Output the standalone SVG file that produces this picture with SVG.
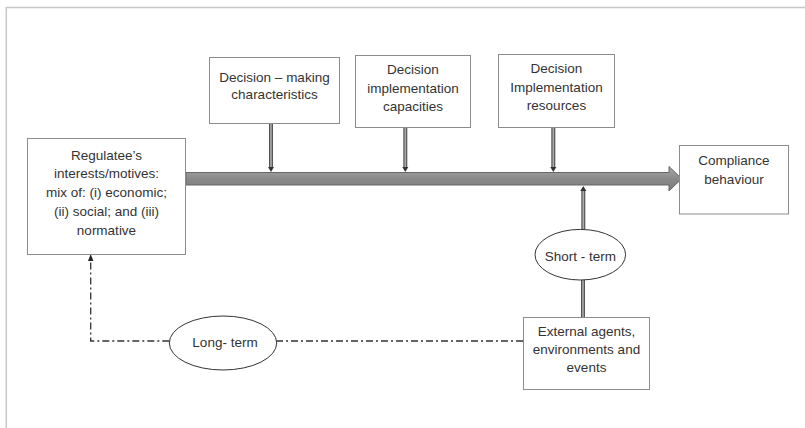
<svg xmlns="http://www.w3.org/2000/svg" width="805" height="428" viewBox="0 0 805 428">
<defs>
<style>
.box{fill:#fff;stroke:#8c8c8c;stroke-width:1}
.ell{fill:#fff;stroke:#333;stroke-width:1}
.t{font-family:"Liberation Sans",Arial,sans-serif;font-size:13.5px;fill:#333;text-anchor:middle;dominant-baseline:central}
.vout{stroke:#555;stroke-width:4;fill:none}
.vin{stroke:#aaa;stroke-width:1.6;fill:none}
.dd{stroke:#333;stroke-width:1.3;fill:none;stroke-dasharray:7 3 2 3}
</style>
<linearGradient id="g" x1="0" y1="0" x2="0" y2="1">
<stop offset="0" stop-color="#a8a8a8"/>
<stop offset="0.5" stop-color="#8a8a8a"/>
<stop offset="1" stop-color="#7c7c7c"/>
</linearGradient>
</defs>
<rect width="805" height="428" fill="#fff"/>
<g id="frame">
<line x1="6" y1="7.5" x2="805" y2="7.5" stroke="#c8c8c8" stroke-width="1.5"/>
<line x1="6.3" y1="7" x2="6.3" y2="428" stroke="#c8c8c8" stroke-width="1.5"/>
</g>
<g id="connectors">
<path id="main-arrow" d="M186,172.5 L669,172.5 L669,166.5 L681.7,178.7 L669,191 L669,185 L186,185 z" fill="url(#g)" stroke="#666" stroke-width="1"/>
<line class="vout" x1="271" y1="123" x2="271" y2="168"/>
<line class="vin" x1="271" y1="123" x2="271" y2="168"/>
<path d="M268,167 L274,167 L271,172 z" fill="#333"/>
<line class="vout" x1="405.3" y1="127" x2="405.3" y2="168"/>
<line class="vin" x1="405.3" y1="127" x2="405.3" y2="168"/>
<path d="M402.3,167 L408.3,167 L405.3,172 z" fill="#333"/>
<line class="vout" x1="553.3" y1="127" x2="553.3" y2="168"/>
<line class="vin" x1="553.3" y1="127" x2="553.3" y2="168"/>
<path d="M550.3,167 L556.3,167 L553.3,172 z" fill="#333"/>
<line class="vout" x1="583.3" y1="229.5" x2="583.3" y2="190"/>
<line class="vin" x1="583.3" y1="229.5" x2="583.3" y2="190"/>
<path d="M580.3,191 L586.3,191 L583.3,186 z" fill="#333"/>
<line class="vout" x1="583" y1="280" x2="583" y2="317.5"/>
<line class="vin" x1="583" y1="280" x2="583" y2="317.5"/>
<line class="dd" x1="523" y1="341" x2="276.7" y2="341"/>
<polyline class="dd" points="169.3,341 90.7,341 90.7,258"/>
<path d="M88,261 L93.4,261 L90.7,254 z" fill="#222"/>
</g>
<g id="n-regulatee">
<rect class="box" x="27.5" y="138.5" width="158" height="116"/>
<text class="t" x="106.5" y="155">Regulatee’s</text>
<text class="t" x="106.5" y="173">interests/motives:</text>
<text class="t" x="106.5" y="192">mix of: (i) economic;</text>
<text class="t" x="106.5" y="211.5">(ii) social; and (iii)</text>
<text class="t" x="106.5" y="230">normative</text>
</g>
<g id="n-decision-making">
<rect class="box" x="209.5" y="57.5" width="130" height="66"/>
<text class="t" x="274.5" y="77.5">Decision – making</text>
<text class="t" x="274.5" y="94.5">characteristics</text>
</g>
<g id="n-capacities">
<rect class="box" x="355.5" y="55.5" width="115" height="72"/>
<text class="t" x="413" y="69.5">Decision</text>
<text class="t" x="413" y="88">implementation</text>
<text class="t" x="413" y="106">capacities</text>
</g>
<g id="n-resources">
<rect class="box" x="498.5" y="54.5" width="116" height="73"/>
<text class="t" x="556.5" y="68.5">Decision</text>
<text class="t" x="556.5" y="87">Implementation</text>
<text class="t" x="556.5" y="105.5">resources</text>
</g>
<g id="n-compliance">
<rect class="box" x="679.5" y="145.5" width="109" height="68.5"/>
<text class="t" x="734" y="160">Compliance</text>
<text class="t" x="734" y="179">behaviour</text>
</g>
<g id="n-short-term">
<ellipse class="ell" cx="580.3" cy="254.7" rx="45.3" ry="25.3"/>
<text class="t" x="580.3" y="256.5">Short - term</text>
</g>
<g id="n-external">
<rect class="box" x="523.5" y="317.5" width="126" height="72" stroke="#444"/>
<text class="t" x="586.5" y="331">External agents,</text>
<text class="t" x="586.5" y="349.5">environments and</text>
<text class="t" x="586.5" y="367.5">events</text>
</g>
<g id="n-long-term">
<ellipse class="ell" cx="223" cy="343" rx="53.7" ry="27"/>
<text class="t" x="225" y="342.5">Long- term</text>
</g>
</svg>
